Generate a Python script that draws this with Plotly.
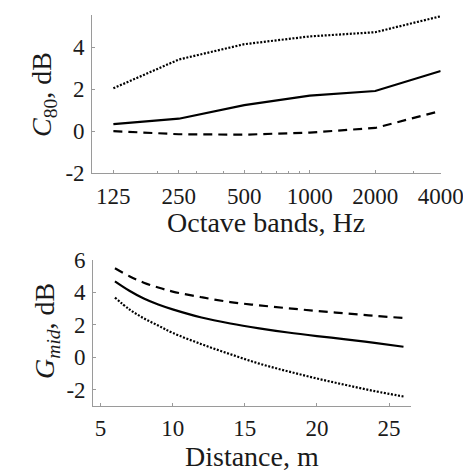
import plotly.graph_objects as go

# Top panel: C80 per octave band
bands = [125, 250, 500, 1000, 2000, 4000]
c80_dotted = [2.05, 3.42, 4.15, 4.52, 4.72, 5.48]
c80_solid = [0.34, 0.6, 1.25, 1.7, 1.92, 2.87]
c80_dashed = [0.01, -0.14, -0.16, -0.06, 0.16, 0.97]

# Bottom panel: Gmid vs distance
distance = [6, 7, 8, 9, 10, 12, 14, 16, 18, 20, 22, 24, 26]
g_dashed = [5.49, 5.0, 4.6, 4.3, 4.05, 3.7, 3.4, 3.2, 3.02, 2.85, 2.7, 2.55, 2.42]
g_solid = [4.68, 4.1, 3.62, 3.25, 2.95, 2.45, 2.08, 1.78, 1.52, 1.3, 1.1, 0.88, 0.64]
g_dotted = [3.68, 2.95, 2.4, 1.95, 1.5, 0.8, 0.18, -0.4, -0.88, -1.32, -1.72, -2.1, -2.43]

top_yticks = [-2, 0, 2, 4]
bot_yticks = [-2, 0, 2, 4, 6]
bot_xticks = [5, 10, 15, 20, 25]
minor_bands = [200, 300, 400, 600, 700, 800, 900, 3000]

FONT = "Liberation Serif"
TXT = "#1a1a1a"
W, H = 463, 471

fig = go.Figure()

dash_solid = "solid"
dash_dash = "9px,6px"
dash_dot = "2px,1.6px"

for y, d in [(c80_dotted, dash_dot), (c80_solid, dash_solid), (c80_dashed, dash_dash)]:
    fig.add_trace(go.Scatter(x=bands, y=y, mode="lines", xaxis="x", yaxis="y",
                             line=dict(color="black", width=2.2, dash=d), showlegend=False))

for y, d in [(g_dashed, dash_dash), (g_solid, dash_solid), (g_dotted, dash_dot)]:
    fig.add_trace(go.Scatter(x=distance, y=y, mode="lines", xaxis="x2", yaxis="y2",
                             line=dict(color="black", width=2.2, dash=d, shape="spline"),
                             showlegend=False))

axis_common = dict(showline=True, linecolor="#9a9a9a", linewidth=1.2, showgrid=False,
                   zeroline=False, ticks="inside", tickcolor="#9a9a9a", ticklen=3,
                   automargin=False, ticklabeloverflow="allow",
                   tickfont=dict(family=FONT, size=23, color=TXT), mirror=False)

fig.update_layout(
    width=W, height=H, margin=dict(l=0, r=0, t=0, b=0, autoexpand=False),
    plot_bgcolor="white", paper_bgcolor="white",
    font=dict(family=FONT, color=TXT),
    xaxis=dict(**axis_common, type="log", domain=[92.3 / W, 440.7 / W],
               range=[2.0, 3.6022], anchor="y",
               tickvals=bands, ticktext=[str(b) for b in bands], ticklabelstandoff=2,
               minor=dict(tickvals=minor_bands, ticks="inside", ticklen=2, tickcolor="#9a9a9a")),
    yaxis=dict(**axis_common, domain=[1 - 173.3 / H, 1 - 15 / H], range=[-2, 5.54], anchor="x",
               tickvals=top_yticks, ticktext=[str(v) for v in top_yticks], ticklabelstandoff=2),
    xaxis2=dict(**axis_common, domain=[93.3 / W, 410.7 / W], range=[4.5, 26.5], anchor="y2",
                tickvals=bot_xticks, ticktext=[str(v) for v in bot_xticks], ticklabelstandoff=2),
    yaxis2=dict(**axis_common, domain=[1 - 405.7 / H, 1 - 260 / H], range=[-3, 6], anchor="x2",
                tickvals=bot_yticks, ticktext=[str(v) for v in bot_yticks], ticklabelstandoff=2),
)

title_font = dict(family=FONT, size=28, color=TXT)
titles = [
    ("Octave bands, Hz", 266 / W, 1 - 222 / H, 0),
    ("Distance, m", 252 / W, 1 - 456 / H, 0),
    ("<i>C</i><sub>80</sub>, dB", 44 / W, 1 - 95 / H, -90),
    ("<i>G<sub>mid</sub></i>, dB", 46 / W, 1 - 331 / H, -90),
]
for text, x, y, ang in titles:
    fig.add_annotation(text=text, x=x, y=y, xref="paper", yref="paper",
                       xanchor="center", yanchor="middle", showarrow=False,
                       textangle=ang, font=title_font)

fig.write_html("out.html", config={"displayModeBar": False},
               post_script="document.body.style.margin='0';document.body.style.overflow='hidden';")
